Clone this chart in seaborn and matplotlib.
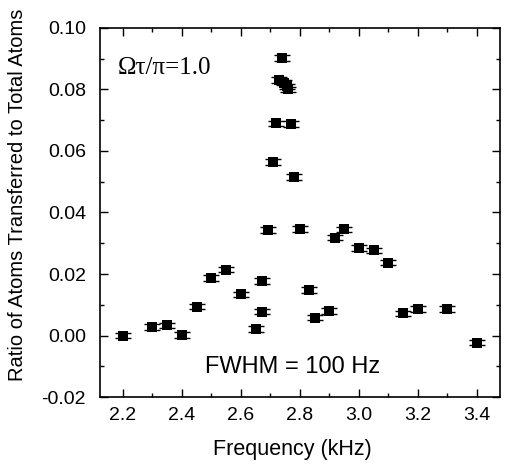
import numpy as np
import pandas as pd
import seaborn as sns
from matplotlib import pyplot as plt
from matplotlib.ticker import MultipleLocator

# frequency (kHz) and transfer ratio
freq = [2.20, 2.30, 2.35, 2.40, 2.45, 2.50, 2.55, 2.60, 2.65, 2.67, 2.67,
        2.69, 2.71, 2.72, 2.73, 2.74, 2.745, 2.755, 2.76, 2.77, 2.78,
        2.80, 2.83, 2.85, 2.90, 2.92, 2.95, 3.00, 3.05, 3.10, 3.15,
        3.20, 3.30, 3.40]
ratio = [0.0000, 0.0028, 0.0033, 0.0002, 0.0094, 0.0187, 0.0214, 0.0134,
         0.0021, 0.0177, 0.0078, 0.0343, 0.0565, 0.0690, 0.0831, 0.0903,
         0.0822, 0.0810, 0.0800, 0.0688, 0.0516, 0.0346, 0.0148, 0.0058,
         0.0079, 0.0318, 0.0345, 0.0284, 0.0277, 0.0237, 0.0072, 0.0087,
         0.0087, -0.0023]
err = 0.0009

df = pd.DataFrame({"Frequency": freq, "Ratio": ratio})

sns.set_style("ticks")
plt.rcParams['font.family'] = ['Liberation Sans', 'DejaVu Sans']
plt.rcParams['text.color'] = 'black'
plt.rcParams['axes.labelcolor'] = 'black'
plt.rcParams['xtick.labelcolor'] = 'black'
plt.rcParams['ytick.labelcolor'] = 'black'

fig = plt.figure(figsize=(5.05, 4.66), dpi=100)
ax = fig.add_axes([0.198, 0.148, 0.792, 0.792])

ax.errorbar(df["Frequency"], df["Ratio"], yerr=err, fmt='none',
            ecolor='black', elinewidth=0.8, capsize=5.5, capthick=1.0, zorder=2)
sns.scatterplot(data=df, x="Frequency", y="Ratio", marker='s', s=45,
                color='black', edgecolor='black', linewidth=0, ax=ax, zorder=3)

ax.set_xlim(2.122, 3.478)
ax.set_ylim(-0.02, 0.10)
ax.xaxis.set_major_locator(MultipleLocator(0.2))
ax.xaxis.set_minor_locator(MultipleLocator(0.1))
ax.yaxis.set_major_locator(MultipleLocator(0.02))
ax.yaxis.set_minor_locator(MultipleLocator(0.01))
ax.xaxis.set_major_formatter(plt.FormatStrFormatter('%.1f'))
ax.yaxis.set_major_formatter(plt.FormatStrFormatter('%.2f'))
ax.tick_params(which='both', direction='in', top=True, right=True,
               labelsize=14, color='black', labelcolor='black', width=1.0)
ax.tick_params(which='major', length=6)
ax.tick_params(which='minor', length=3)
ax.tick_params(axis='y', pad=10)
ax.tick_params(axis='x', pad=7)
for sp in ax.spines.values():
    sp.set_color('black')
    sp.set_linewidth(1.2)

ax.set_xlabel("Frequency (kHz)", fontsize=15.5)
ax.xaxis.set_label_coords(0.48, -0.115)
ax.set_ylabel("Ratio of Atoms Transferred to Total Atoms", fontsize=14.5)
ax.yaxis.set_label_coords(-0.183, 0.548)

ax.text(0.045, 0.892, "Ωτ/π=1.0", transform=ax.transAxes, fontsize=18,
        family=['Liberation Serif', 'DejaVu Serif'], va='center')
ax.text(0.4825, 0.081, "FWHM = 100 Hz", transform=ax.transAxes, fontsize=17,
        ha='center', va='center')

fig.savefig("out.png", dpi=100)
